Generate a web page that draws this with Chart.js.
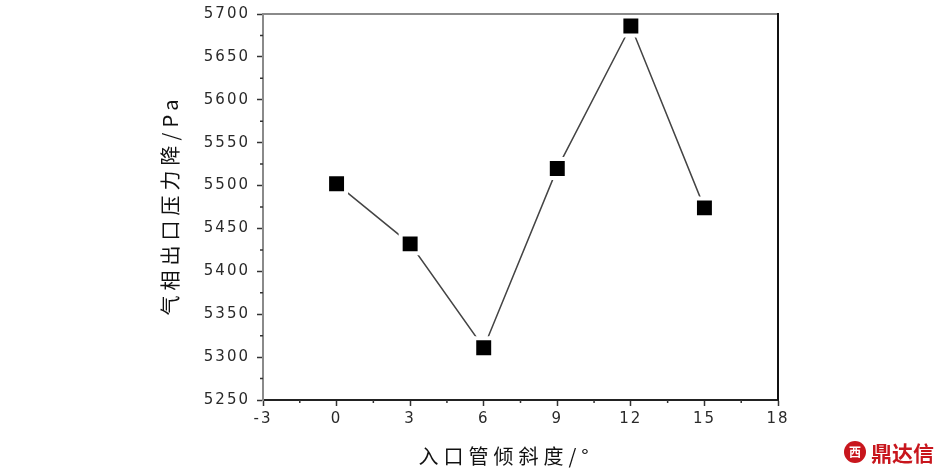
<!DOCTYPE html>
<html>
<head>
<meta charset="utf-8">
<script src="https://cdn.jsdelivr.net/npm/chart.js@4/dist/chart.umd.min.js"></script>
<style>
  html, body { margin: 0; padding: 0; background: #fff; }
  #myChart { display: block; }
</style>
</head>
<body>
<canvas id="myChart" width="945" height="474"></canvas>
<script>
// inlet tilt (deg) and gas-side pressure drop (Pa)
const tilt = [0, 3, 6, 9, 12, 15];
const pressureDrop = [5502, 5432, 5311, 5520, 5686, 5474];
const xMinorTicks = [-1.5, 1.5, 4.5, 7.5, 10.5, 13.5, 16.5];
const yMinorTicks = [5275, 5325, 5375, 5425, 5475, 5525, 5575, 5625, 5675];
const xTitle = '入口管倾斜度/°';
const yTitle = '气相出口压力降/Pa';

const cnFont = '"Noto Sans CJK SC", "Noto Sans", sans-serif';
const numFont = '"DejaVu Sans", "Liberation Sans", sans-serif';

// wide-spaced digits like the scanned figure
const spacing = {
    id: 'spacing',
    beforeDraw(chart) { chart.ctx.letterSpacing = '2px'; }
};

// frame, minor ticks, axis titles and the little logo in the corner
const extras = {
    id: 'extras',
    afterDraw(chart) {
        const ctx = chart.ctx;
        const a = chart.chartArea;
        const x = chart.scales.x, y = chart.scales.y;
        ctx.save();
        // top + right border
        ctx.lineWidth = 2;
        ctx.strokeStyle = '#8a8a8a';
        ctx.beginPath();
        ctx.moveTo(a.left, a.top);
        ctx.lineTo(a.right, a.top);
        ctx.stroke();
        ctx.strokeStyle = '#111';
        ctx.beginPath();
        ctx.moveTo(a.right, a.top - 1);
        ctx.lineTo(a.right, a.bottom);
        ctx.stroke();
        // minor ticks
        ctx.lineWidth = 1.5;
        ctx.strokeStyle = '#333';
        ctx.beginPath();
        xMinorTicks.forEach(v => {
            const px = x.getPixelForValue(v);
            ctx.moveTo(px, a.bottom);
            ctx.lineTo(px, a.bottom + 3);
        });
        yMinorTicks.forEach(v => {
            const py = y.getPixelForValue(v);
            ctx.moveTo(a.left, py);
            ctx.lineTo(a.left - 3, py);
        });
        ctx.stroke();
        // axis titles
        ctx.fillStyle = '#111';
        ctx.font = '20px ' + cnFont;
        ctx.letterSpacing = '5px';
        ctx.textAlign = 'center';
        ctx.textBaseline = 'middle';
        ctx.fillText(xTitle, 506, 456);
        ctx.save();
        ctx.translate(170, 205);
        ctx.rotate(-Math.PI / 2);
        ctx.fillText(yTitle, 0, 0);
        ctx.restore();
        // logo
        ctx.letterSpacing = '0px';
        ctx.fillStyle = '#c8161d';
        ctx.beginPath();
        ctx.arc(855, 452, 11, 0, Math.PI * 2);
        ctx.fill();
        ctx.fillStyle = '#fff';
        ctx.font = 'bold 12px ' + cnFont;
        ctx.fillText('西', 855, 452);
        ctx.fillStyle = '#c8161d';
        ctx.font = 'bold 21px ' + cnFont;
        ctx.textAlign = 'left';
        ctx.fillText('鼎达信', 871, 453);
        ctx.restore();
    }
};

const data = {
    labels: tilt,
    datasets: [{
        data: tilt.map((t, i) => ({x: t, y: pressureDrop[i]})),
        borderColor: '#444',
        borderWidth: 1.5,
        pointStyle: 'rect',
        pointRadius: 13.4,
        pointBackgroundColor: '#000',
        pointBorderColor: '#fff',
        pointBorderWidth: 4,
        tension: 0
    }]
};

const options = {
    responsive: false,
    animation: false,
    devicePixelRatio: 1,
    layout: { autoPadding: false, padding: { top: 14, right: 167, left: 0, bottom: 0 } },
    scales: {
        x: {
            type: 'linear',
            min: -3, max: 18,
            afterFit: (s) => { s.height = 74; s.paddingLeft = 0; s.paddingRight = 0; },
            ticks: { stepSize: 3, color: '#2a2a2a', padding: 4, font: { family: numFont, size: 15 } },
            grid: { drawOnChartArea: false, tickLength: 6, tickWidth: 1.5, tickColor: '#333' },
            border: { color: '#222', width: 2 }
        },
        y: {
            min: 5250, max: 5700,
            afterFit: (s) => { s.width = 263; s.paddingTop = 0; s.paddingBottom = 0; },
            ticks: {
                stepSize: 50, color: '#2a2a2a', padding: 7,
                font: { family: numFont, size: 15 },
                callback: (v) => String(v)
            },
            grid: { drawOnChartArea: false, tickLength: 6, tickWidth: 1.5, tickColor: '#333' },
            border: { color: '#8a8a8a', width: 2 }
        }
    },
    plugins: {
        legend: { display: false },
        tooltip: { enabled: false }
    }
};

new Chart(document.getElementById('myChart'), {
    type: 'line',
    data: data,
    options: options,
    plugins: [spacing, extras]
});
</script>
</body>
</html>
